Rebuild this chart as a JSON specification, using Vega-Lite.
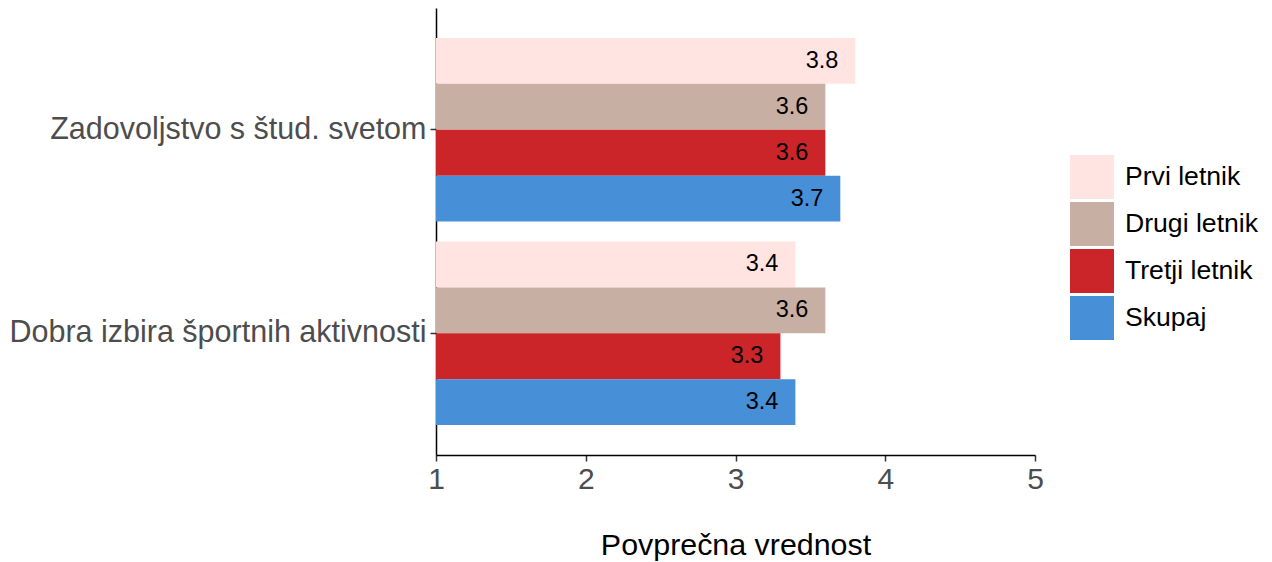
{
  "$schema": "https://vega.github.io/schema/vega-lite/v6.json",
  "autosize": "none",
  "width": 599,
  "height": 447,
  "padding": {"left": 436, "top": 8, "right": 237, "bottom": 107},
  "background": "white",
  "data": {
    "values": [
      {"item": "Zadovoljstvo s štud. svetom", "group": "Prvi letnik", "value": 3.8},
      {"item": "Zadovoljstvo s štud. svetom", "group": "Drugi letnik", "value": 3.6},
      {"item": "Zadovoljstvo s štud. svetom", "group": "Tretji letnik", "value": 3.6},
      {"item": "Zadovoljstvo s štud. svetom", "group": "Skupaj", "value": 3.7},
      {"item": "Dobra izbira športnih aktivnosti", "group": "Prvi letnik", "value": 3.4},
      {"item": "Dobra izbira športnih aktivnosti", "group": "Drugi letnik", "value": 3.6},
      {"item": "Dobra izbira športnih aktivnosti", "group": "Tretji letnik", "value": 3.3},
      {"item": "Dobra izbira športnih aktivnosti", "group": "Skupaj", "value": 3.4}
    ]
  },
  "encoding": {
    "y": {
      "field": "item",
      "type": "nominal",
      "sort": ["Zadovoljstvo s štud. svetom", "Dobra izbira športnih aktivnosti"],
      "scale": {"paddingInner": 0.098, "paddingOuter": 0.147},
      "axis": {
        "title": null,
        "labelFont": "Liberation Sans",
        "labelFontSize": 30.5,
        "labelLimit": 500,
        "labelColor": "#4D4D4D",
        "labelPadding": 4,
        "tickSize": 6,
        "tickColor": "#333333",
        "tickWidth": 1.5,
        "domainColor": "#000000",
        "domainWidth": 1.5,
        "grid": false
      }
    },
    "yOffset": {
      "field": "group",
      "type": "nominal",
      "sort": ["Prvi letnik", "Drugi letnik", "Tretji letnik", "Skupaj"],
      "scale": {"paddingInner": 0, "paddingOuter": 0}
    }
  },
  "layer": [
    {
      "mark": {"type": "bar"},
      "encoding": {
        "x": {
          "field": "value",
          "type": "quantitative",
          "scale": {"domain": [1, 5], "zero": false, "nice": false},
          "axis": {
            "title": "Povprečna vrednost",
            "values": [1, 2, 3, 4, 5],
            "format": "d",
            "titleFont": "Liberation Sans",
            "titleFontSize": 30.4,
            "titleFontWeight": "normal",
            "titleColor": "#000000",
            "titlePadding": 36,
            "labelFont": "Liberation Sans",
            "labelFontSize": 30,
            "labelColor": "#4D4D4D",
            "labelPadding": 3,
            "labelFlush": false,
            "tickSize": 6,
            "tickColor": "#333333",
            "tickWidth": 1.5,
            "domainColor": "#000000",
            "domainWidth": 1.5,
            "grid": false
          }
        },
        "x2": {"datum": 1},
        "color": {
          "field": "group",
          "type": "nominal",
          "sort": ["Prvi letnik", "Drugi letnik", "Tretji letnik", "Skupaj"],
          "scale": {
            "domain": ["Prvi letnik", "Drugi letnik", "Tretji letnik", "Skupaj"],
            "range": ["#FFE4E1", "#C8AFA4", "#CC2529", "#478FD6"]
          },
          "legend": {
            "title": null,
            "orient": "none",
            "legendX": 634,
            "legendY": 147,
            "symbolType": "square",
            "symbolSize": 1936,
            "symbolStrokeWidth": 0,
            "symbolOpacity": 1,
            "rowPadding": 3,
            "labelOffset": 11,
            "labelFont": "Liberation Sans",
            "labelFontSize": 26.6,
            "labelColor": "#000000",
            "labelLimit": 300
          }
        }
      }
    },
    {
      "mark": {"type": "text", "align": "right", "baseline": "middle", "dx": -17, "font": "Liberation Sans", "fontSize": 23.5, "color": "#000000"},
      "encoding": {
        "x": {"field": "value", "type": "quantitative"},
        "text": {"field": "value", "type": "quantitative", "format": ".1f"}
      }
    }
  ],
  "config": {"view": {"stroke": null}}
}
